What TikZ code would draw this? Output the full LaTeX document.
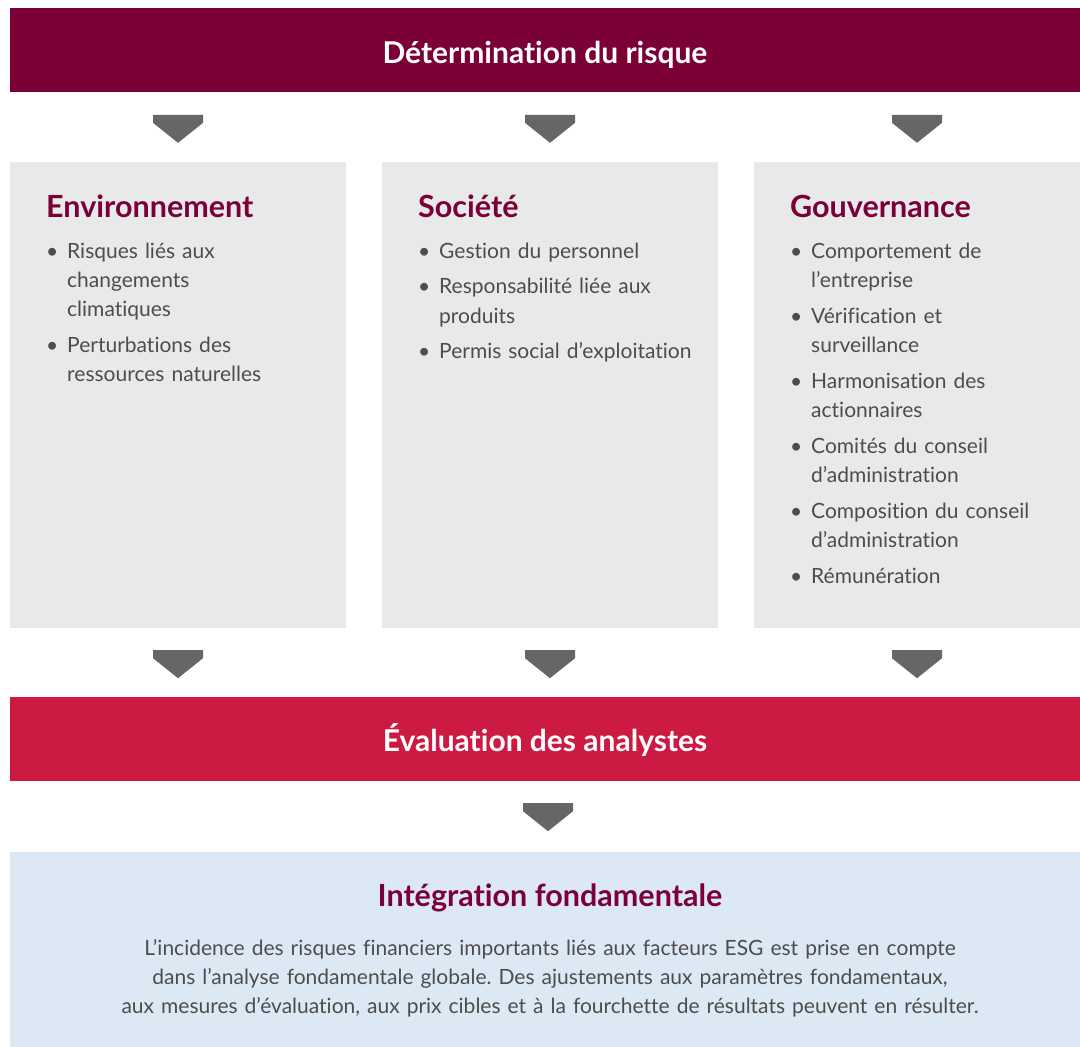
\documentclass[tikz,border=0pt]{standalone}
\usepackage{fontspec}
\setmainfont{Lato}[Ligatures=NoCommon]
\usepackage{tikz}
\usetikzlibrary{positioning,calc}

\definecolor{maroon}{HTML}{7A0037}
\definecolor{crimson}{HTML}{CC1A42}
\definecolor{boxgray}{HTML}{E8E9E9}
\definecolor{paleblue}{HTML}{DDE8F5}
\definecolor{arrowgray}{HTML}{666666}
\definecolor{textgray}{HTML}{4D4D4D}

\frenchspacing
\newcommand\bul[1]{\hangindent=21pt\hangafter=1\makebox[21pt][l]{\textbullet}#1\par\setlength\parskip{6.5pt}}

\tikzset{
  bar/.style={minimum width=1070pt, minimum height=84pt, inner sep=0pt, text=white,
    font=\bfseries\fontsize{30}{34}\selectfont, text height=26pt, text depth=0pt},
  pillar/.style={fill=boxgray, minimum height=466pt, inner sep=0pt},
  head/.style={anchor=base west, inner sep=0pt, text=maroon, font=\bfseries\fontsize{30.5}{34}\selectfont},
  blist/.style={anchor=base west, inner sep=0pt, text width=320pt, align=left, text=textgray,
    font=\fontsize{21}{29.3}\selectfont},
  body/.style={anchor=base, inner sep=0pt, text width=1000pt, align=center, text=textgray,
    font=\fontsize{21}{29}\selectfont}
}

\begin{document}
\begin{tikzpicture}[x=1pt,y=-1pt]
\useasboundingbox (0,0) rectangle (1080,1047);

% bars and boxes
\node[bar, fill=maroon] (risk) at (545,50) {Détermination du risque};
\node[pillar, minimum width=336pt] (env) at (178,395) {};
\node[pillar, minimum width=336pt] (soc) at (550,395) {};
\node[pillar, minimum width=326pt] (gov) at (917,395) {};
\node[bar, fill=crimson] (eval) at (545,738.5) {Évaluation des analystes};
\node[fill=paleblue, minimum width=1070pt, minimum height=195pt, inner sep=0pt] (integ) at (545,949.5) {};

% down arrows
\foreach \n in {env,soc,gov}
         {
           \fill[arrowgray] ($(\n.north)+(-25,-47)$) -- ++(50,0) -- ++(0,8) -- ++(-25,20) -- ++(-25,-20) -- cycle;
           \fill[arrowgray] ($(\n.south)+(-25,22)$) -- ++(50,0) -- ++(0,8) -- ++(-25,20) -- ++(-25,-20) -- cycle;
         }
\fill[arrowgray] ($(eval.south)+(-22,22.5)$) -- ++(50,0) -- ++(0,8) -- ++(-25,20) -- ++(-25,-20) -- cycle;

% columns
\node[head] (envhead) at (46,217) {Environnement};
\node[blist] (envlist) at (46,258) {\bul{Risques liés aux\newline changements\newline climatiques}\bul{Perturbations des\newline ressources naturelles}};

\node[head] (sochead) at (418,217) {Société};
\node[blist] (soclist) at (418,258) {\bul{Gestion du personnel}\bul{Responsabilité liée aux\newline produits}\bul{Permis social d’exploitation}};

\node[head] (govhead) at (790,217) {Gouvernance};
\node[blist] (govlist) at (790,258) {\bul{Comportement de\newline l’entreprise}\bul{Vérification et\newline surveillance}\bul{Harmonisation des\newline actionnaires}\bul{Comités du conseil\newline d’administration}\bul{Composition du conseil\newline d’administration}\bul{Rémunération}};

% integration
\node[head, anchor=base] (integhead) at (550,906) {Intégration fondamentale};
\node[body] (integtext) at (550,955) {L’incidence des risques financiers importants liés aux facteurs ESG est prise en compte\\
dans l’analyse fondamentale globale. Des ajustements aux paramètres fondamentaux,\\
aux mesures d’évaluation, aux prix cibles et à la fourchette de résultats peuvent en résulter.};

\end{tikzpicture}
\end{document}
